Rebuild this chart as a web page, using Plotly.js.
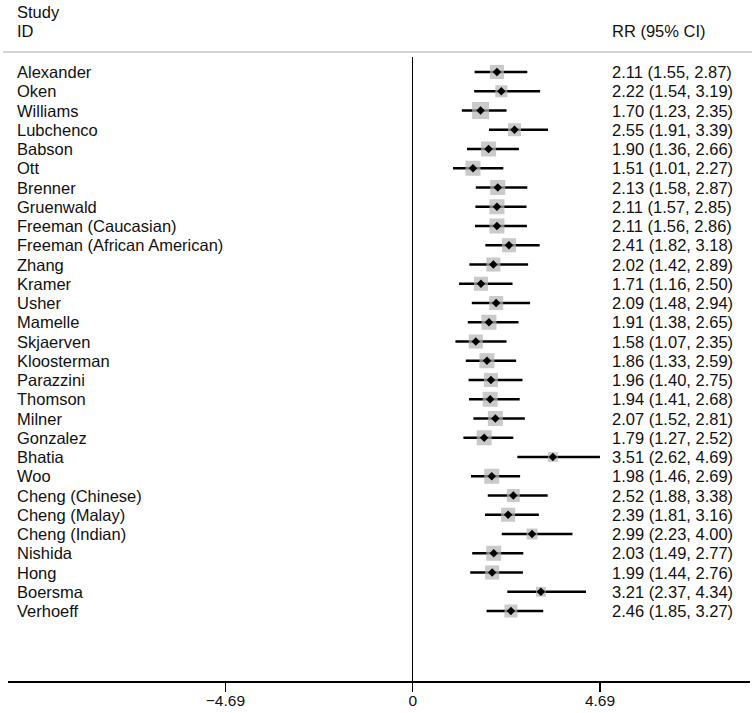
<!DOCTYPE html>
<html>
<head>
<meta charset="utf-8">
<script src="https://cdn.plot.ly/plotly-3.0.1.min.js"></script>
<style>html,body{margin:0;padding:0;background:#fff;}#chart{width:756px;height:713px;}</style>
</head>
<body>
<div id="chart"></div>
<script>
const studies = ["Alexander","Oken","Williams","Lubchenco","Babson","Ott","Brenner","Gruenwald",
  "Freeman (Caucasian)","Freeman (African American)","Zhang","Kramer","Usher","Mamelle","Skjaerven",
  "Kloosterman","Parazzini","Thomson","Milner","Gonzalez","Bhatia","Woo","Cheng (Chinese)",
  "Cheng (Malay)","Cheng (Indian)","Nishida","Hong","Boersma","Verhoeff"];
const rr    = [2.11,2.22,1.70,2.55,1.90,1.51,2.13,2.11,2.11,2.41,2.02,1.71,2.09,1.91,1.58,1.86,1.96,1.94,2.07,1.79,3.51,1.98,2.52,2.39,2.99,2.03,1.99,3.21,2.46];
const lower = [1.55,1.54,1.23,1.91,1.36,1.01,1.58,1.57,1.56,1.82,1.42,1.16,1.48,1.38,1.07,1.33,1.40,1.41,1.52,1.27,2.62,1.46,1.88,1.81,2.23,1.49,1.44,2.37,1.85];
const upper = [2.87,3.19,2.35,3.39,2.66,2.27,2.87,2.85,2.86,3.18,2.89,2.50,2.94,2.65,2.35,2.59,2.75,2.68,2.81,2.52,4.69,2.69,3.38,3.16,4.00,2.77,2.76,4.34,3.27];
// approximate study weights (%)
const weights = [3.3,2.4,4.8,2.8,3.75,3.75,3.75,3.75,3.75,3.3,3.3,3.3,3.3,3.75,3.3,3.75,3.3,3.75,3.75,3.75,1.6,3.75,2.8,3.3,2.0,3.75,3.3,1.6,2.8];
const tickVals = [-4.69, 0, 4.69];
const tickText = ["\u22124.69", "0", "4.69"];

const rows = studies.map((s, i) => i + 1);

const ciX = [], ciY = [];
rows.forEach((r, i) => { ciX.push(lower[i], upper[i], null); ciY.push(r, r, null); });

const FONT = "Liberation Sans, Arial, Helvetica, sans-serif";
const TXT = "#111";

const traces = [
  { type: "scatter", mode: "lines", x: ciX, y: ciY, line: {color: "#000", width: 2.6},
    hoverinfo: "skip", showlegend: false },
  { type: "scatter", mode: "markers", x: rr, y: rows,
    marker: {symbol: "square", color: "#b4b4b4", size: weights.map(w => Math.sqrt(w * 60)), line: {width: 0}},
    hoverinfo: "skip", showlegend: false },
  { type: "scatter", mode: "markers", x: rr, y: rows,
    marker: {symbol: "diamond", color: "#000", size: 6.5, line: {width: 0}},
    hoverinfo: "skip", showlegend: false }
];

const plotH = 713 - 57 - 32;
const pxToPaperY = px => (681 - px) / plotH;
const pxToPaperX = px => (px - 8) / 742;

const annotations = [];
studies.forEach((s, i) => {
  annotations.push({ text: s, xref: "paper", x: pxToPaperX(15), xanchor: "left",
    yref: "y", y: rows[i], yanchor: "middle", showarrow: false,
    font: {family: FONT, size: 16.5, color: TXT} });
  annotations.push({ text: rr[i].toFixed(2) + " (" + lower[i].toFixed(2) + ", " + upper[i].toFixed(2) + ")",
    xref: "paper", x: pxToPaperX(610), xanchor: "left",
    yref: "y", y: rows[i], yanchor: "middle", showarrow: false,
    font: {family: FONT, size: 16.5, color: TXT} });
});
annotations.push({ text: "Study", xref: "paper", x: pxToPaperX(15), xanchor: "left",
  yref: "paper", y: pxToPaperY(12), yanchor: "middle", showarrow: false,
  font: {family: FONT, size: 16.5, color: TXT} });
annotations.push({ text: "ID", xref: "paper", x: pxToPaperX(15), xanchor: "left",
  yref: "paper", y: pxToPaperY(31), yanchor: "middle", showarrow: false,
  font: {family: FONT, size: 16.5, color: TXT} });
annotations.push({ text: "RR (95% CI)", xref: "paper", x: pxToPaperX(610), xanchor: "left",
  yref: "paper", y: pxToPaperY(31), yanchor: "middle", showarrow: false,
  font: {family: FONT, size: 16.5, color: TXT} });

const layout = {
  width: 756, height: 713,
  margin: {l: 8, r: 6, t: 57, b: 32, pad: 0},
  paper_bgcolor: "#fff", plot_bgcolor: "#fff",
  showlegend: false,
  font: {family: FONT, color: TXT},
  xaxis: {
    range: [(8 - 412.7) / 39.93, (750 - 412.7) / 39.93],
    showgrid: false, zeroline: true, zerolinecolor: "#000", zerolinewidth: 1.5,
    showline: true, linecolor: "#000", linewidth: 1.5,
    ticks: "outside", ticklen: 9, tickwidth: 1.3, tickcolor: "#000",
    ticklabelstandoff: -4,
    tickvals: tickVals, ticktext: tickText,
    tickfont: {family: FONT, size: 15.5, color: TXT},
    fixedrange: true
  },
  yaxis: {
    range: [1 + (681 - 72) / 19.25, 1 - (72 - 57) / 19.25],
    showgrid: false, zeroline: false, showline: false, showticklabels: false, ticks: "",
    fixedrange: true
  },
  shapes: [
    { type: "line", xref: "paper", yref: "paper",
      x0: pxToPaperX(3), x1: pxToPaperX(752), y0: pxToPaperY(52), y1: pxToPaperY(52),
      line: {color: "#c4c4c4", width: 1.5} }
  ],
  annotations: annotations
};

Plotly.newPlot("chart", traces, layout, {displayModeBar: false, staticPlot: true});
</script>
</body>
</html>
